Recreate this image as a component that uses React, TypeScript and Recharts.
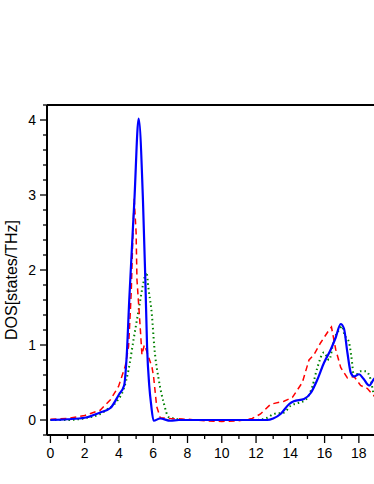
import React from 'react'
import { Line, LineChart, ReferenceLine, XAxis, YAxis } from 'recharts'

// blue solid series
const blueX = [0, 1, 2, 2.9, 3.5, 4.0, 4.3, 4.45, 4.6, 4.9, 5.15, 5.4, 5.54, 5.64, 5.77, 5.87, 6.02, 6.4, 7.0, 7.5, 8, 10, 12, 12.65, 13.0, 13.43, 13.92, 14.2, 14.8, 15.19, 15.58, 15.96, 16.36, 16.65, 16.94, 17.13, 17.33, 17.53, 17.72, 18.01, 18.27, 18.6, 18.89, 19]
const blueY = [0, 0.01, 0.03, 0.1, 0.16, 0.34, 0.46, 0.85, 1.6, 2.93, 4.02, 2.93, 1.87, 0.98, 0.45, 0.22, -0.01, 0.02, -0.01, 0, 0, 0, 0, 0, 0.02, 0.08, 0.21, 0.25, 0.28, 0.36, 0.54, 0.76, 0.94, 1.1, 1.28, 1.22, 0.9, 0.63, 0.58, 0.61, 0.55, 0.46, 0.55, 0.57]

// red dashed series
const redX = [0, 1, 2, 2.9, 3.5, 3.98, 4.37, 4.56, 4.66, 4.72, 4.82, 4.89, 5.0, 5.05, 5.25, 5.34, 5.48, 5.6, 5.73, 5.93, 6.02, 6.2, 6.41, 7, 8, 9, 10, 11, 11.78, 12.26, 12.85, 13.63, 14.12, 14.7, 15.09, 15.38, 15.77, 16.26, 16.4, 16.65, 16.94, 17.33, 17.72, 18.1, 18.5, 18.8, 19]
const redY = [0.01, 0.02, 0.06, 0.13, 0.27, 0.45, 0.72, 0.98, 1.43, 1.73, 2.53, 2.95, 2.5, 1.87, 1.2, 0.87, 1.0, 0.93, 0.84, 0.7, 0.58, 0.18, 0.03, 0.02, 0.01, -0.01, -0.02, -0.01, 0.02, 0.08, 0.21, 0.25, 0.3, 0.5, 0.8, 0.87, 1.03, 1.2, 1.24, 0.94, 0.7, 0.56, 0.58, 0.46, 0.42, 0.34, 0.3]

// green dotted series
const greenX = [0, 1, 2.13, 2.9, 3.3, 3.88, 4.27, 4.56, 4.85, 5.15, 5.4, 5.6, 5.73, 5.93, 6.06, 6.32, 6.61, 6.9, 8, 10, 12, 12.65, 13.04, 13.63, 14.02, 14.5, 14.9, 15.29, 15.58, 15.96, 16.26, 16.55, 16.84, 17.04, 17.13, 17.43, 17.56, 17.72, 18.1, 18.4, 18.69, 18.85, 19]
const greenY = [0, 0, 0.03, 0.08, 0.14, 0.25, 0.41, 0.67, 1.07, 1.47, 1.8, 1.97, 1.74, 1.38, 0.98, 0.54, 0.23, 0.04, 0, 0, 0, 0.03, 0.08, 0.1, 0.19, 0.23, 0.27, 0.45, 0.7, 0.9, 0.8, 1.07, 1.2, 1.25, 1.16, 1.03, 0.85, 0.58, 0.65, 0.65, 0.54, 0.36, 0.3]

const xTicks = [1, 2, 3, 4, 5, 6, 7, 8, 9, 10, 11, 12, 13, 14, 15, 16, 17, 18, 19, 0]
const yTicks = [-0.2, 0, 0.2, 0.4, 0.6, 0.8, 1, 1.2, 1.4, 1.6, 1.8, 2, 2.2, 2.4, 2.6, 2.8, 3, 3.2, 3.4, 3.6, 3.8, 4, 4.2]

const toPoints = (xs: number[], ys: number[]) => xs.map((x, i) => ({ x, y: ys[i] }))

const blueData = toPoints(blueX, blueY)
const redData = toPoints(redX, redY)
const greenData = toPoints(greenX, greenY)

const font = '"Liberation Sans", Arial, sans-serif'

const isMajor = (v: number) => Math.abs(v - Math.round(v)) < 1e-6

const YTick = (props: any) => {
  const { x, y, payload } = props
  const v = payload.value as number
  const major = isMajor(v) && v >= 0 && v <= 4
  return (
    <g>
      <line x1={x} y1={y} x2={x - (major ? 7 : 4)} y2={y} stroke="#000" strokeWidth={1.3} />
      {major && (
        <text x={x - 11} y={y} dy={5} textAnchor="end" fontSize={14} fontFamily={font} fill="#000">
          {v}
        </text>
      )}
    </g>
  )
}

const XTick = (props: any) => {
  const { x, y, payload } = props
  const v = payload.value as number
  const major = v % 2 === 0
  return (
    <g>
      <line x1={x} y1={y} x2={x} y2={y + (major ? 8 : 4)} stroke="#000" strokeWidth={1.3} />
      {major && (
        <text x={x} y={y} dy={23} textAnchor="middle" fontSize={14} fontFamily={font} fill="#000">
          {v}
        </text>
      )}
    </g>
  )
}

export default function App() {
  return (
    <div style={{ position: 'relative', width: 374, height: 484, overflow: 'hidden', background: '#fff' }}>
      <style>{'body{margin:0}'}</style>
      <LineChart width={376} height={484} margin={{ top: 105, right: 0, left: 0, bottom: 19 }}>
        <XAxis
          dataKey="x"
          type="number"
          domain={[-0.2, 19]}
          ticks={xTicks}
          interval={0}
          height={30}
          tickSize={0}
          tickMargin={0}
          tickLine={false}
          axisLine={{ stroke: '#000', strokeWidth: 2 }}
          tick={<XTick />}
          allowDataOverflow
        />
        <YAxis
          type="number"
          domain={[-0.2, 4.2]}
          ticks={yTicks}
          interval={0}
          width={47}
          tickSize={0}
          tickMargin={0}
          tickLine={false}
          axisLine={{ stroke: '#000', strokeWidth: 2 }}
          tick={<YTick />}
          allowDataOverflow
        />
        <ReferenceLine y={4.2} stroke="#000" strokeWidth={2} />
        <Line
          data={greenData}
          dataKey="y"
          type="monotone"
          stroke="#008000"
          strokeWidth={2}
          strokeDasharray="1.5 3"
          dot={false}
          isAnimationActive={false}
        />
        <Line
          data={redData}
          dataKey="y"
          type="linear"
          stroke="#ff0000"
          strokeWidth={1.5}
          strokeDasharray="6 4"
          dot={false}
          isAnimationActive={false}
        />
        <Line
          data={blueData}
          dataKey="y"
          type="monotone"
          stroke="#0000ff"
          strokeWidth={2.2}
          dot={false}
          isAnimationActive={false}
        />
      </LineChart>
      <div
        style={{
          position: 'absolute',
          left: 12,
          top: 280,
          transform: 'translate(-50%, -50%) rotate(-90deg)',
          whiteSpace: 'nowrap',
          fontFamily: font,
          fontSize: 16,
          color: '#000',
        }}
      >
        DOS[states/THz]
      </div>
    </div>
  )
}
